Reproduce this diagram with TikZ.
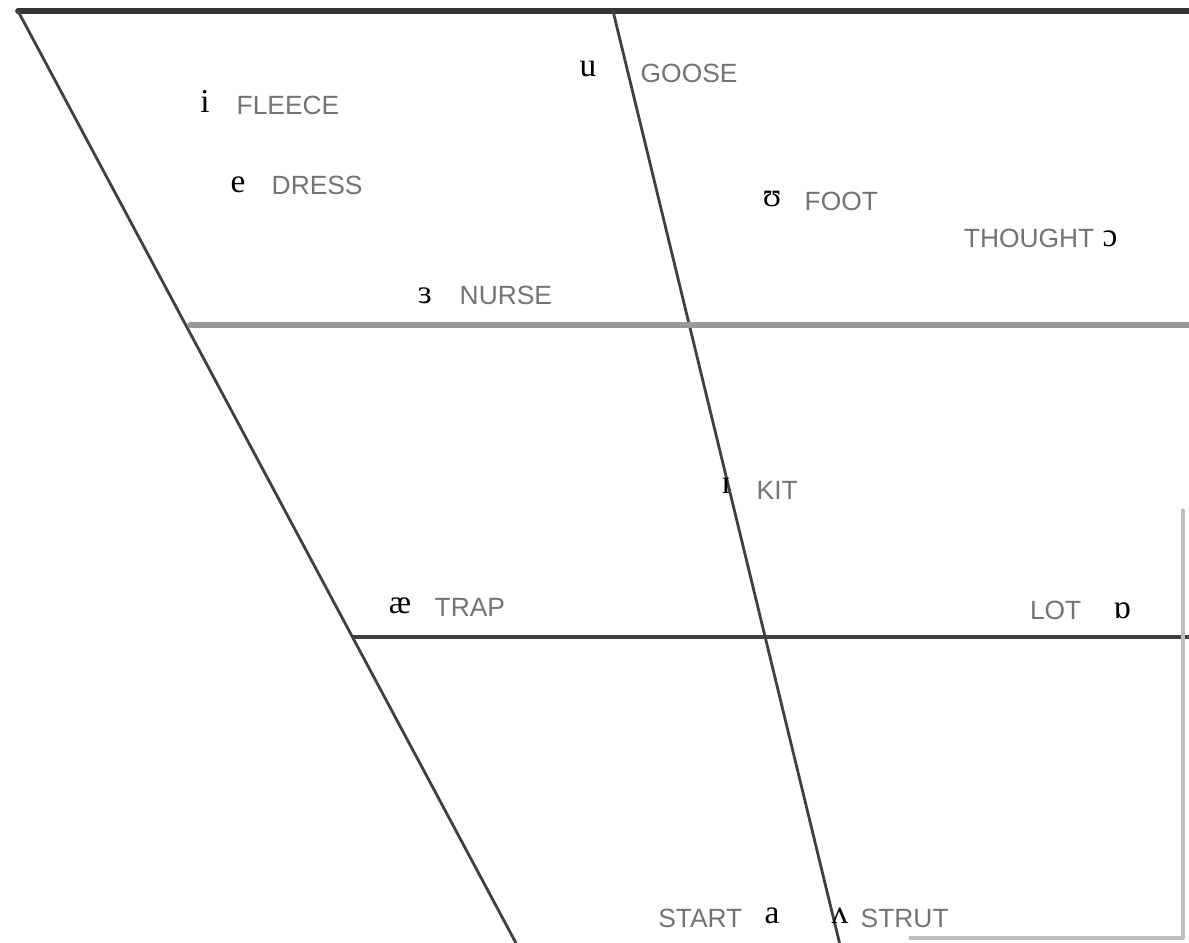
\documentclass[tikz,border=0pt]{standalone}
\usepackage{fontspec}
\setmainfont{Liberation Serif}
\newfontfamily\labelfont{Liberation Sans}
\begin{document}
\begin{tikzpicture}[x=0.01cm, y=-0.01cm, line cap=round, line join=round,
    ipa/.style={inner sep=0pt, font=\fontsize{9.5}{10}\selectfont},
    word/.style={inner sep=0pt, text=black!55, font=\labelfont\fontsize{7.5}{8}\selectfont}]
  \useasboundingbox (0,0) rectangle (1189,942);
  % 元音四边形的框线
  \coordinate (TL) at (18,11);
  \coordinate (TR) at (1189,11);
  \coordinate (BL) at (517,945);
  \coordinate (MT) at (613,11);
  \coordinate (MB) at (840,945);
  \draw[line width=1.6pt, black!80] (TL) -- (TR);
  \draw[line width=0.8pt, black!75] (TL) -- (BL);
  \draw[line width=0.8pt, black!75] (MT) -- (MB);
  \draw[line width=1.5pt, black!40] (190,325) -- (1189,325);
  \draw[line width=1.1pt, black!75] (354,637) -- (1189,637);
  \draw[line width=0.9pt, black!25] (910,938) -- (1183,938) -- (1183,510);
  % 高元音
  \node[ipa] (vi) at (205,101) {i};
  \node[word, anchor=west] (fleece) at (236,105) {FLEECE};
  \node[ipa] (ve) at (238,185) {e};
  \node[word, anchor=west] (dress) at (271,185) {DRESS};
  \node[ipa] (vu) at (588,69) {u};
  \node[word, anchor=west] (goose) at (640,73) {GOOSE};
  \node[ipa] (vfoot) at (772,199) {ʊ};
  \node[word, anchor=west] (foot) at (804,201) {FOOT};
  \node[word, anchor=east] (thought) at (1095,238) {THOUGHT};
  \node[ipa] (vthought) at (1110,239) {ɔ};
  \node[ipa] (vnurse) at (425,296) {ɜ};
  \node[word, anchor=west] (nurse) at (459,295) {NURSE};
  % 中元音
  \node[ipa] (vkit) at (726,486) {ɪ};
  \node[word, anchor=west] (kit) at (756,490) {KIT};
  \node[ipa] (vtrap) at (400,606) {æ};
  \node[word, anchor=west] (trap) at (434,607) {TRAP};
  \node[word, anchor=east] (lot) at (1082,610) {LOT};
  \node[ipa] (vlot) at (1122,611) {ɒ};
  % 低元音
  \node[word, anchor=east] (start) at (743,918) {START};
  \node[ipa] (vstart) at (772,916) {a};
  \node[ipa] (vstrut) at (840,916) {ʌ};
  \node[word, anchor=west] (strut) at (860,918) {STRUT};
\end{tikzpicture}
\end{document}
